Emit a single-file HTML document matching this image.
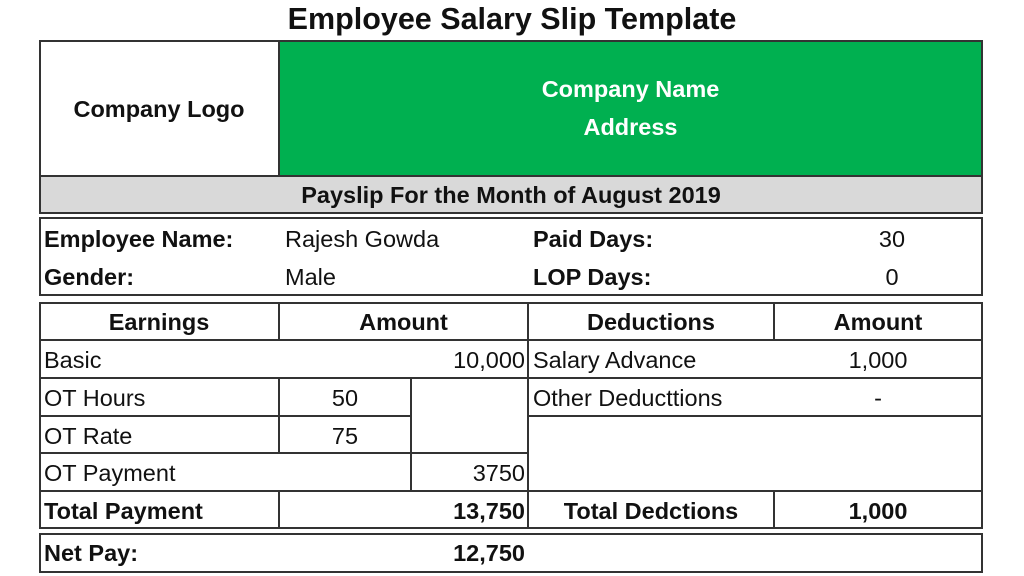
<!DOCTYPE html>
<html><head><meta charset="utf-8"><style>
body{margin:0;width:1024px;height:576px;background:#fff;position:relative;overflow:hidden;font-family:"Liberation Sans",sans-serif;color:#111}
.h,.v{position:absolute;background:#333}
.h{height:2px}.v{width:2px}
.t{position:absolute;font-size:23.5px;line-height:26px;white-space:nowrap}
.b{font-weight:bold}
.c{text-align:center}.r{text-align:right}
</style></head><body>
<div class="t b c" style="left:0;width:1024px;top:2px;font-size:30.5px;line-height:34px">Employee Salary Slip Template</div>
<div style="position:absolute;left:280px;top:41px;width:701px;height:135px;background:#00b050"></div>
<div style="position:absolute;left:40px;top:177px;width:941px;height:36px;background:#d9d9d9"></div>
<div class="h" style="left:39px;top:40px;width:944px"></div>
<div class="h" style="left:39px;top:175px;width:944px"></div>
<div class="h" style="left:39px;top:212px;width:944px"></div>
<div class="v" style="left:39px;top:40px;height:174px"></div>
<div class="v" style="left:981px;top:40px;height:174px"></div>
<div class="v" style="left:278px;top:40px;height:136px"></div>
<div class="t b c" style="left:39px;width:240px;top:96px">Company Logo</div>
<div class="t b c" style="left:280px;width:701px;top:76px;color:#fff">Company Name</div>
<div class="t b c" style="left:280px;width:701px;top:114px;color:#fff">Address</div>
<div class="t b c" style="left:39px;width:944px;top:182px">Payslip For the Month of August 2019</div>
<div class="h" style="left:39px;top:217px;width:944px"></div>
<div class="h" style="left:39px;top:294px;width:944px"></div>
<div class="v" style="left:39px;top:217px;height:79px"></div>
<div class="v" style="left:981px;top:217px;height:79px"></div>
<div class="t b" style="left:44px;top:226px">Employee Name:</div>
<div class="t" style="left:285px;top:226px">Rajesh Gowda</div>
<div class="t b" style="left:533px;top:226px">Paid Days:</div>
<div class="t c" style="left:774px;width:236px;top:226px">30</div>
<div class="t b" style="left:44px;top:264px">Gender:</div>
<div class="t" style="left:285px;top:264px">Male</div>
<div class="t b" style="left:533px;top:264px">LOP Days:</div>
<div class="t c" style="left:774px;width:236px;top:264px">0</div>
<div class="h" style="left:39px;top:302px;width:944px"></div>
<div class="h" style="left:39px;top:339px;width:944px"></div>
<div class="h" style="left:39px;top:377px;width:944px"></div>
<div class="h" style="left:39px;top:415px;width:372px"></div>
<div class="h" style="left:527px;top:415px;width:456px"></div>
<div class="h" style="left:39px;top:452px;width:490px"></div>
<div class="h" style="left:39px;top:490px;width:944px"></div>
<div class="h" style="left:39px;top:527px;width:944px"></div>
<div class="v" style="left:39px;top:302px;height:227px"></div>
<div class="v" style="left:981px;top:302px;height:227px"></div>
<div class="v" style="left:278px;top:302px;height:38px"></div>
<div class="v" style="left:278px;top:377px;height:76px"></div>
<div class="v" style="left:278px;top:490px;height:38px"></div>
<div class="v" style="left:410px;top:377px;height:114px"></div>
<div class="v" style="left:527px;top:302px;height:227px"></div>
<div class="v" style="left:773px;top:302px;height:38px"></div>
<div class="v" style="left:773px;top:490px;height:38px"></div>
<div class="t b c" style="left:39px;width:240px;top:309px">Earnings</div>
<div class="t b c" style="left:279px;width:249px;top:309px">Amount</div>
<div class="t b c" style="left:528px;width:246px;top:309px">Deductions</div>
<div class="t b c" style="left:774px;width:208px;top:309px">Amount</div>
<div class="t" style="left:44px;top:347px">Basic</div>
<div class="t r" style="left:300px;width:225px;top:347px">10,000</div>
<div class="t" style="left:533px;top:347px">Salary Advance</div>
<div class="t c" style="left:774px;width:208px;top:347px">1,000</div>
<div class="t" style="left:44px;top:385px">OT Hours</div>
<div class="t c" style="left:279px;width:132px;top:385px">50</div>
<div class="t" style="left:533px;top:385px">Other Deducttions</div>
<div class="t c" style="left:774px;width:208px;top:385px">-</div>
<div class="t" style="left:44px;top:423px">OT Rate</div>
<div class="t c" style="left:279px;width:132px;top:423px">75</div>
<div class="t" style="left:44px;top:460px">OT Payment</div>
<div class="t r" style="left:411px;width:114px;top:460px">3750</div>
<div class="t b" style="left:44px;top:498px">Total Payment</div>
<div class="t b r" style="left:300px;width:225px;top:498px">13,750</div>
<div class="t b c" style="left:528px;width:246px;top:498px">Total Dedctions</div>
<div class="t b c" style="left:774px;width:208px;top:498px">1,000</div>
<div class="h" style="left:39px;top:533px;width:944px"></div>
<div class="h" style="left:39px;top:571px;width:944px"></div>
<div class="v" style="left:39px;top:533px;height:40px"></div>
<div class="v" style="left:981px;top:533px;height:40px"></div>
<div class="t b" style="left:44px;top:540px">Net Pay:</div>
<div class="t b r" style="left:300px;width:225px;top:540px">12,750</div>
</body></html>
